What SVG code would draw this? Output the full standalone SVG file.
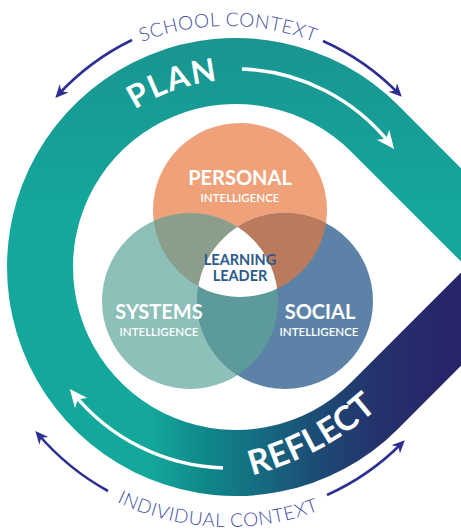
<svg xmlns="http://www.w3.org/2000/svg" width="461" height="531" viewBox="0 0 461 531">
<defs>
<style>
.ctx{font-family:Lato,"Open Sans","Liberation Sans",sans-serif;font-weight:300;font-size:19px;fill:#4550a6;letter-spacing:0.6px}
.band{font-family:Lato,"Open Sans","Liberation Sans",sans-serif;font-weight:700;fill:#ffffff}
.big{font-family:Lato,"Open Sans","Liberation Sans",sans-serif;font-weight:700;font-size:20px;fill:#ffffff;text-anchor:middle}
.small{font-family:Lato,"Open Sans","Liberation Sans",sans-serif;font-weight:600;font-size:11.5px;fill:#ffffff;text-anchor:middle}
.core{font-family:Lato,"Open Sans","Liberation Sans",sans-serif;font-weight:700;font-size:14.5px;fill:#2b5a8c;text-anchor:middle}
.blue{fill:none;stroke:#2e2f92;stroke-width:2.6}
.white{fill:none;stroke:#ffffff;stroke-width:3.5}
</style>
<linearGradient id="gTop" x1="0" y1="38" x2="0" y2="220" gradientUnits="userSpaceOnUse">
<stop offset="0" stop-color="#1a9491"/>
<stop offset="1" stop-color="#14a89c"/>
</linearGradient>
<linearGradient id="gBot" x1="150" y1="0" x2="440" y2="0" gradientUnits="userSpaceOnUse">
<stop offset="0" stop-color="#14a79b"/>
<stop offset="0.2" stop-color="#0f868a"/>
<stop offset="0.35" stop-color="#147082"/>
<stop offset="0.55" stop-color="#1c4f76"/>
<stop offset="0.78" stop-color="#24326c"/>
<stop offset="1" stop-color="#27266a"/>
</linearGradient>
<marker id="aBlue" viewBox="-10 -7 15 14" refX="0" refY="0" markerWidth="15" markerHeight="14" markerUnits="userSpaceOnUse" orient="auto">
<path d="M4,0 L-9,-6 L-5,0 L-9,6 Z" fill="#2e2f92"/>
</marker>
<marker id="aWhite" viewBox="-14 -9 20 18" refX="0" refY="0" markerWidth="20" markerHeight="18" markerUnits="userSpaceOnUse" orient="auto">
<path d="M5,0 L-13,-8 L-8,0 L-13,8 Z" fill="#ffffff"/>
</marker>
<clipPath id="cO"><circle cx="240" cy="210" r="87"/></clipPath>
<clipPath id="cSy"><circle cx="190" cy="301" r="88"/></clipPath>
<path id="pTop" d="M-13,267 A241,241 0 0 1 469,267"/>
<path id="pBot" d="M-32,267 A260,260 0 0 0 488,267"/>
<path id="pPlan" d="M49,267 A187,187 0 0 1 423,267"/>
<path id="pRef" d="M122,480 A303,303 0 0 0 461.6,284.3"/>
</defs>

<g id="loop">
<path id="plan-band" d="M7,267 A229,229 0 0 1 397.93,105.07 L470,177.14 L470,270.48 L351.26,151.74 A163,163 0 0 0 73,267 Z" fill="url(#gTop)"/>
<path id="reflect-band" d="M7,267 A229,229 0 0 0 397.93,428.93 L470,356.86 L470,263.52 L351.26,382.26 A163,163 0 0 1 73,267 Z" fill="url(#gBot)"/>
<text class="band" font-size="32" letter-spacing="1.5"><textPath href="#pPlan" startOffset="231.5" text-anchor="middle">PLAN</textPath></text>
<text class="band" font-size="34" letter-spacing="0.5"><textPath href="#pRef" startOffset="203" text-anchor="middle">REFLECT</textPath></text>
</g>

<g id="connectors">
<path class="white" d="M242,69 A198,198 0 0 1 391,145" marker-end="url(#aWhite)"/>
<path class="white" d="M223,468 A202,202 0 0 1 73,393" marker-end="url(#aWhite)"/>
<path class="blue" d="M132,40 A246,246 0 0 0 58,95" marker-end="url(#aBlue)"/>
<path class="blue" d="M323,41 A246,246 0 0 1 399,94" marker-end="url(#aBlue)"/>
<path class="blue" d="M108,491 A252,252 0 0 1 38,434" marker-end="url(#aBlue)"/>
<path class="blue" d="M327,495 A250,250 0 0 0 402,443" marker-end="url(#aBlue)"/>
</g>

<g id="school-context">
<text class="ctx"><textPath href="#pTop" startOffset="378.6" text-anchor="middle">SCHOOL CONTEXT</textPath></text>
</g>
<g id="individual-context">
<text class="ctx"><textPath href="#pBot" startOffset="397.5" text-anchor="middle">INDIVIDUAL CONTEXT</textPath></text>
</g>

<g id="personal">
<circle cx="240" cy="210" r="87" fill="#efa27a"/>
</g>
<g id="systems">
<circle cx="190" cy="301" r="88" fill="#8cc0b8"/>
</g>
<g id="social">
<circle cx="285" cy="301" r="88" fill="#5c83a7"/>
</g>
<g id="overlaps">
<circle cx="190" cy="301" r="88" fill="#8a9e8b" clip-path="url(#cO)"/>
<circle cx="285" cy="301" r="88" fill="#bb7a5c" clip-path="url(#cO)"/>
<circle cx="285" cy="301" r="88" fill="#5d9a9c" clip-path="url(#cSy)"/>
<g clip-path="url(#cSy)"><circle cx="285" cy="301" r="88" fill="#ffffff" clip-path="url(#cO)"/></g>
</g>
<g id="labels">
<text class="big" x="240" y="185">PERSONAL</text>
<text class="small" x="240" y="202">INTELLIGENCE</text>
<text class="big" x="159" y="319">SYSTEMS</text>
<text class="small" x="159" y="336">INTELLIGENCE</text>
<text class="big" x="320" y="319">SOCIAL</text>
<text class="small" x="319" y="336">INTELLIGENCE</text>
</g>
<g id="learning-leader">
<text class="core" x="240" y="265">LEARNING</text>
<text class="core" x="240" y="281">LEADER</text>
</g>
</svg>
